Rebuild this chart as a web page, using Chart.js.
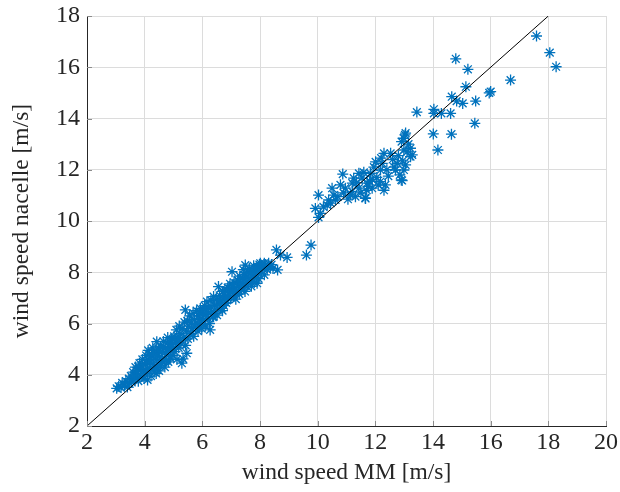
<!DOCTYPE html>
<html>
<head>
<meta charset="utf-8">
<script src="https://cdn.jsdelivr.net/npm/chart.js@4.4.1/dist/chart.umd.min.js"></script>
<style>
  html, body { margin: 0; padding: 0; background: #fff; }
  #wrap { width: 620px; height: 492px; }
</style>
</head>
<body>
<div id="wrap"><canvas id="chart" width="620" height="492"></canvas></div>
<script>
// wind speed pairs [MM, nacelle] in m/s
const lowBand = [
  [3.03,3.47],[3.1,3.55],[3.18,3.5],[3.22,3.68],[3.3,3.6],[3.35,3.75],[3.4,3.52],[3.45,3.85],[3.48,3.65],
  [3.52,3.95],[3.55,3.7],[3.6,4.1],[3.62,3.82],[3.68,4.3],[3.7,3.9],[3.75,4.05],[3.78,3.75],[3.82,4.45],
  [3.85,4.2],[3.88,3.95],[3.92,4.6],[3.95,4.15],[3.98,3.85],
  [3.65,3.95],[3.72,4.15],[3.8,4.3],[3.9,4.35],[4.0,4.05],[4.05,4.55],[4.1,4.25],
  [4.02,4.4],[4.05,4.75],[4.08,4.05],[4.1,3.8],[4.12,4.95],[4.15,4.55],[4.18,4.25],[4.22,3.95],[4.25,4.7],
  [4.28,5.05],[4.3,4.4],[4.33,4.1],[4.36,4.85],[4.4,4.6],[4.42,5.29],[4.45,4.3],[4.48,4.95],
  [4.15,4.8],[4.2,4.5],[4.3,4.85],[4.35,4.3],[4.4,4.05],[4.45,4.75],
  [4.5,4.15],[4.52,4.7],[4.55,5.1],[4.58,4.45],[4.62,4.9],[4.65,5.3],[4.68,4.6],[4.7,4.3],[4.73,5.05],
  [4.76,4.8],[4.8,5.45],[4.82,4.5],[4.85,5.2],[4.88,4.95],[4.9,4.65],[4.93,5.35],[4.96,5.1],[4.98,4.75],
  [4.5,5.0],[4.55,4.35],[4.6,4.55],[4.65,5.1],[4.75,4.55],[4.8,5.0],[4.9,5.25],
  [5.02,5.5],[5.05,4.9],[5.08,5.25],[5.1,5.75],[5.12,4.6],[5.15,5.4],[5.18,5.05],[5.2,5.9],[5.23,5.6],
  [5.26,5.2],[5.29,4.45],[5.3,5.8],[5.33,4.62],[5.35,5.45],[5.38,6.05],[5.41,6.53],[5.42,5.15],[5.46,4.84],
  [5.45,5.7],[5.48,6.1],[5.0,5.05],[5.05,5.4],[5.12,5.2],[5.2,5.45],
  [5.5,5.4],[5.53,5.9],[5.56,6.3],[5.6,5.6],[5.62,6.05],[5.65,5.8],[5.68,6.4],[5.7,5.5],[5.73,6.15],
  [5.76,5.85],[5.8,6.5],[5.82,6.0],[5.85,5.7],[5.88,6.3],[5.9,5.95],[5.93,6.59],[5.95,6.2],[5.98,5.8],
  [5.9,6.4],[6.0,6.1],
  [6.02,6.45],[6.05,6.1],[6.08,6.7],[6.1,5.9],[6.13,6.35],[6.16,6.85],[6.2,6.2],[6.22,6.6],[6.25,6.0],
  [6.27,5.75],[6.3,6.9],[6.33,6.45],[6.36,6.25],[6.39,7.05],[6.39,6.27],[6.42,6.7],[6.45,6.4],[6.48,6.95],
  [6.1,6.55],[6.2,6.4],[6.3,6.65],
  [6.51,6.33],[6.53,6.8],[6.56,7.44],[6.58,6.55],[6.6,7.1],[6.63,6.9],[6.66,6.6],[6.7,7.25],[6.72,6.95],
  [6.75,6.7],[6.78,7.3],[6.8,7.05],[6.83,6.8],[6.85,7.05],[6.88,7.4],[6.9,6.95],[6.93,7.2],[6.96,7.55],[6.98,7.0],
  [6.6,6.75],[6.7,6.5],[6.85,6.9],[6.95,7.35],
  [7.03,8.02],[7.05,7.3],[7.08,7.1],[7.1,7.6],[7.13,7.35],[7.16,6.95],[7.2,7.24],[7.22,7.7],[7.25,7.45],
  [7.28,7.15],[7.3,7.85],[7.33,7.55],[7.36,7.3],[7.4,7.75],[7.42,8.1],[7.45,7.5],[7.49,8.28],[7.48,7.25],
  [7.05,7.5],[7.15,7.2],[7.25,7.65],[7.35,7.45],[7.45,7.9],
  [7.52,7.8],[7.55,7.44],[7.58,8.0],[7.6,7.6],[7.63,8.15],[7.66,7.75],[7.7,7.45],[7.72,8.05],[7.75,7.85],
  [7.78,8.25],[7.8,7.6],[7.84,8.02],[7.87,7.8],[7.9,7.57],[7.93,8.2],[7.96,7.95],[7.98,8.3],
  [7.55,7.65],[7.65,7.95],[7.75,7.65],[7.85,8.15],[7.95,7.75],
  [8.01,8.35],[8.05,8.05],[8.1,8.2],[8.15,7.9],[8.2,8.3],[8.25,8.1],[8.3,8.35],[8.35,8.2],[8.4,8.3],[8.45,8.15],
  [8.05,8.25],[8.15,8.35]
];

const gapPoints = [
  [8.57,8.87],[8.61,8.09],[8.71,8.67],[8.94,8.58],[9.61,8.67],[9.77,9.06]
];

const highBand = [
  [9.92,10.49],[10.03,10.14],[10.03,11.01],[10.1,10.3],[10.2,10.55],[10.33,10.62],[10.38,10.82],
  [10.45,10.7],[10.5,11.28],[10.56,11.01],[10.62,10.82],[10.7,10.95],[10.79,11.41],[10.87,11.83],
  [10.9,11.1],[10.96,11.28],[11.05,10.85],[11.14,11.01],[11.2,11.48],[11.2,11.15],[11.25,11.67],
  [11.31,10.95],[11.35,11.5],[11.43,11.86],[11.43,11.28],[11.5,11.1],[11.54,11.67],[11.6,11.9],
  [11.65,10.9],[11.66,10.88],[11.7,11.2],[11.72,11.48],[11.75,11.35],[11.8,11.55],[11.83,11.86],
  [11.89,11.61],[11.89,11.28],[11.95,12.1],[12.01,12.31],[12.05,11.7],[12.1,11.4],[12.18,11.99],
  [12.18,11.54],[12.2,12.45],[12.24,12.25],[12.3,12.64],[12.3,11.2],[12.35,11.41],[12.4,12.0],
  [12.45,11.75],[12.53,12.64],[12.6,12.4],[12.65,12.1],[12.7,11.99],[12.76,12.25],[12.8,12.55],
  [12.85,11.8],[12.9,11.6],[12.91,13.1],[12.93,11.58],[12.95,12.35],[12.99,12.77],[12.99,11.99],
  [12.99,13.23],[13.03,13.36],[13.05,12.19],[13.05,13.43],[13.1,12.7],[13.15,13.0],[13.22,12.84],
  [13.22,12.51],[13.28,12.58]
];

const topPoints = [
  [13.44,14.25],[14.03,14.36],[14.03,14.2],[14.29,14.2],[14.61,14.2],[14.01,13.4],[14.64,13.39],
  [14.17,12.77],[14.65,14.85],[14.82,14.68],[15.03,14.59],[15.48,14.68],[15.45,13.81],[15.14,15.24],
  [15.95,15.0],[16.0,15.05],[14.79,16.33],[15.21,15.92],[16.69,15.5],[17.59,17.22],[18.05,16.57],[18.27,16.02]
];

const lineX = [2, 18];
const lineY = [2, 18];

const xRange = [2, 20];
const yRange = [2, 18];
const tickStep = 2;

const measured = [...lowBand, ...gapPoints, ...highBand, ...topPoints].map(([x, y]) => ({ x, y }));
const diagonal = lineX.map((x, i) => ({ x, y: lineY[i] }));

const serif = "'Liberation Serif', 'Times New Roman', serif";
const ink = "#262626";

// MATLAB-style inward tick marks on left and bottom axes
const innerTicks = {
  id: "innerTicks",
  afterDraw(chart) {
    const { ctx, chartArea, scales } = chart;
    ctx.save();
    ctx.strokeStyle = "#8c8c8c";
    ctx.lineWidth = 1;
    ctx.beginPath();
    scales.x.ticks.forEach((t) => {
      const px = Math.round(scales.x.getPixelForValue(t.value)) + 0.5;
      ctx.moveTo(px, chartArea.bottom);
      ctx.lineTo(px, chartArea.bottom - 5);
    });
    scales.y.ticks.forEach((t) => {
      const py = Math.round(scales.y.getPixelForValue(t.value)) + 0.5;
      ctx.moveTo(chartArea.left, py);
      ctx.lineTo(chartArea.left + 5, py);
    });
    ctx.stroke();
    ctx.restore();
  },
};

new Chart(document.getElementById("chart"), {
  type: "scatter",
  data: {
    datasets: [
      {
        type: "line",
        data: diagonal,
        borderColor: "#000",
        borderWidth: 1,
        pointRadius: 0,
        order: 0,
      },
      {
        data: measured,
        pointStyle: "star",
        pointRadius: 5.5,
        pointBorderWidth: 1.3,
        borderColor: "#0072BD",
        backgroundColor: "#0072BD",
        order: 1,
      },
    ],
  },
  options: {
    responsive: false,
    animation: false,
    devicePixelRatio: 1,
    layout: { padding: { top: 16, right: 14, left: 0, bottom: 0 } },
    plugins: { legend: { display: false }, tooltip: { enabled: false } },
    scales: {
      x: {
        type: "linear",
        min: xRange[0],
        max: xRange[1],
        afterFit: (s) => { s.height = 66; s.paddingLeft = 0; s.paddingRight = 0; },
        ticks: { stepSize: tickStep, color: ink, padding: 2, maxRotation: 0, font: { family: serif, size: 24 } },
        grid: { color: "#dcdcdc", drawTicks: false },
        border: { color: ink, width: 1 },
        title: {
          display: true,
          text: "wind speed MM [m/s]",
          color: ink,
          font: { family: serif, size: 23.5 },
          padding: { top: 0, bottom: 5 },
        },
      },
      y: {
        type: "linear",
        min: yRange[0],
        max: yRange[1],
        afterFit: (s) => { s.width = 87; s.paddingTop = 0; s.paddingBottom = 0; },
        ticks: { stepSize: tickStep, color: ink, padding: 7, font: { family: serif, size: 24 } },
        grid: { color: "#dcdcdc", drawTicks: false },
        border: { color: ink, width: 1 },
        title: {
          display: true,
          text: "wind speed nacelle [m/s]",
          color: ink,
          font: { family: serif, size: 23.5 },
          padding: { top: 8, bottom: 0 },
        },
      },
    },
  },
  plugins: [innerTicks],
});
</script>
</body>
</html>
